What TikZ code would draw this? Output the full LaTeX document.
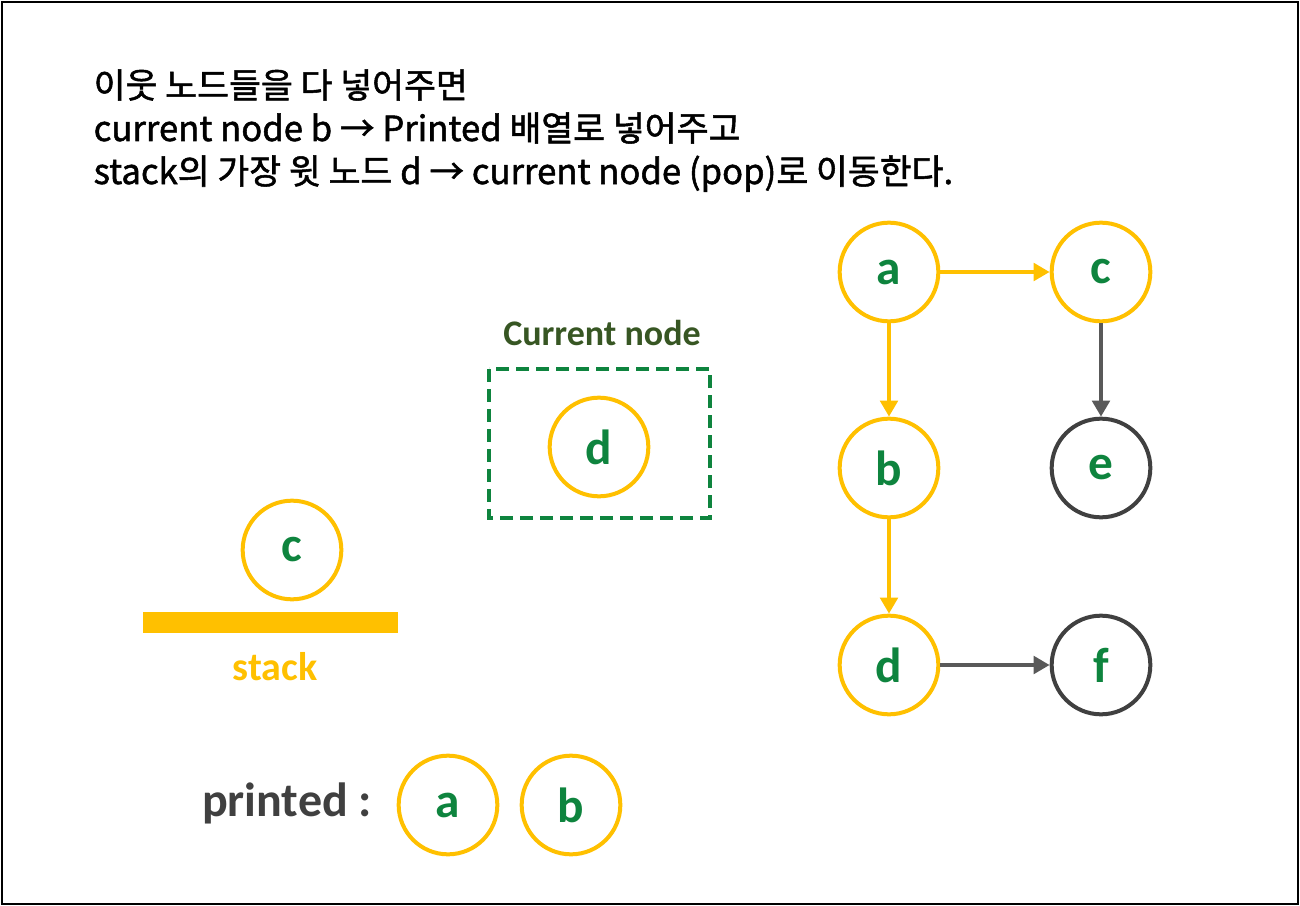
\documentclass[tikz,border=0pt]{standalone}
\usepackage{fontspec}
\setmainfont{Carlito}
\newfontfamily\krfont[FakeBold=1.5]{Noto Sans CJK KR}
\usetikzlibrary{arrows.meta}
\definecolor{gold}{HTML}{FFC000}
\definecolor{leaf}{HTML}{0E843E}
\definecolor{olive}{HTML}{375623}
\definecolor{ink}{HTML}{404040}
\definecolor{edge}{HTML}{595959}
\tikzset{
  vert/.style={circle, draw=gold, line width=3pt, minimum size=74pt, inner sep=0pt,
    font=\fontsize{37}{37}\selectfont\bfseries, text=leaf},
  seen/.style={vert, draw=ink},
  link/.style={line width=3pt, draw=gold, -{Triangle[length=12pt, width=13pt]}},
  greylink/.style={link, draw=edge},
  descline/.style={anchor=base west, font=\krfont\fontsize{26}{26}\selectfont}
}
\begin{document}
\begin{tikzpicture}[x=0.75pt, y=-0.75pt, line cap=butt, line join=miter]
  \useasboundingbox (0,0) rectangle (1300,906);
  \draw[line width=1.5pt] (2,2) rectangle (1298,904);

  % description
  \node[descline] (desc1) at (89,98) {이웃 노드들을 다 넣어주면};
  \node[descline] (desc2) at (89,141) {current node b → Printed 배열로 넣어주고};
  \node[descline] (desc3) at (89,184) {stack의 가장 윗 노드 d → current node (pop)로 이동한다.};

  % graph
  \node[vert] (a) at (889,272) {a};
  \node[vert] (c) at (1101,272) {c};
  \node[vert] (b) at (889,468) {b};
  \node[seen] (e) at (1101,468) {e};
  \node[vert] (d) at (889,665) {d};
  \node[seen] (f) at (1101,665) {f};
  \draw[link] (a) -- (c);
  \draw[link] (a) -- (b);
  \draw[link] (b) -- (d);
  \draw[greylink] (c) -- (e);
  \draw[greylink] (d) -- (f);

  % current node
  \node[font=\fontsize{27}{27}\selectfont\bfseries, text=olive] (curlabel) at (602,333) {Current node};
  \draw[leaf, line width=2.6pt, dash pattern=on 10pt off 5pt] (489,369) rectangle (710,518);
  \node[vert] (cur) at (599,447) {d};

  % stack
  \node[vert] (top) at (292,550) {c};
  \fill[gold] (143,612) rectangle (398,633);
  \node[font=\fontsize{30}{30}\selectfont\bfseries, text=gold] (stacklabel) at (275,667) {stack};

  % printed
  \node[font=\fontsize{36}{36}\selectfont\bfseries, text=ink] (plabel) at (287,803) {printed :};
  \node[vert] (pa) at (448,805) {a};
  \node[vert] (pb) at (571,805) {b};
\end{tikzpicture}
\end{document}
